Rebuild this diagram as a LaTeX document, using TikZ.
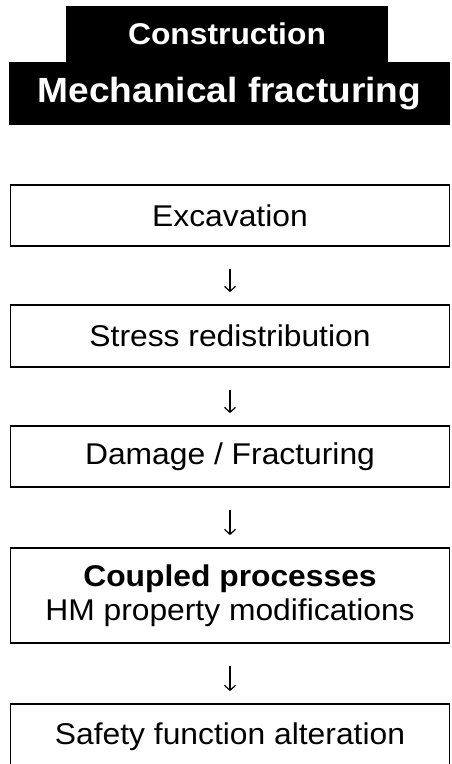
\documentclass[tikz,border=0pt]{standalone}
\usepackage{fontspec}
\setmainfont[FakeStretch=1.06]{Liberation Sans}
\usetikzlibrary{arrows.meta}
\tikzset{
  hdr/.style={fill=black, text=white, inner sep=0pt, align=center},
  stepbox/.style={draw=black, line width=1.7pt, minimum width=439pt, inner sep=0pt, align=center, font=\fontsize{30}{34}\selectfont},
  flow/.style={line width=1.2pt, -{Straight Barb[length=5pt,width=11pt,line width=1.2pt]}, shorten <=22pt, shorten >=12pt}
}
\begin{document}
\begin{tikzpicture}[x=1pt,y=1pt]
\useasboundingbox (0,0) rectangle (452,-764);
\node[hdr, font=\fontsize{30}{34}\selectfont\bfseries, minimum width=322pt, minimum height=56pt] (con) at (227,-34) {Construction};
\node[hdr, font=\fontsize{35}{40}\selectfont\bfseries, minimum width=441pt, minimum height=63pt] (mech) at (229.5,-93.5) {Mechanical fracturing};
\node[stepbox, minimum height=61pt] (b1) at (230,-215.5) {Excavation};
\node[stepbox, minimum height=62pt] (b2) at (230,-336) {Stress redistribution};
\node[stepbox, minimum height=61pt] (b3) at (230,-456.5) {Damage / Fracturing};
\node[stepbox, minimum height=95pt] (b4) at (230,-595.5) {\textbf{Coupled processes}\\HM property modifications};
\node[stepbox, minimum height=66pt] (b5) at (230,-737) {Safety function alteration};
\draw[flow] (b1.south) -- (b2.north);
\draw[flow] (b2.south) -- (b3.north);
\draw[flow] (b3.south) -- (b4.north);
\draw[flow] (b4.south) -- (b5.north);
\end{tikzpicture}
\end{document}
